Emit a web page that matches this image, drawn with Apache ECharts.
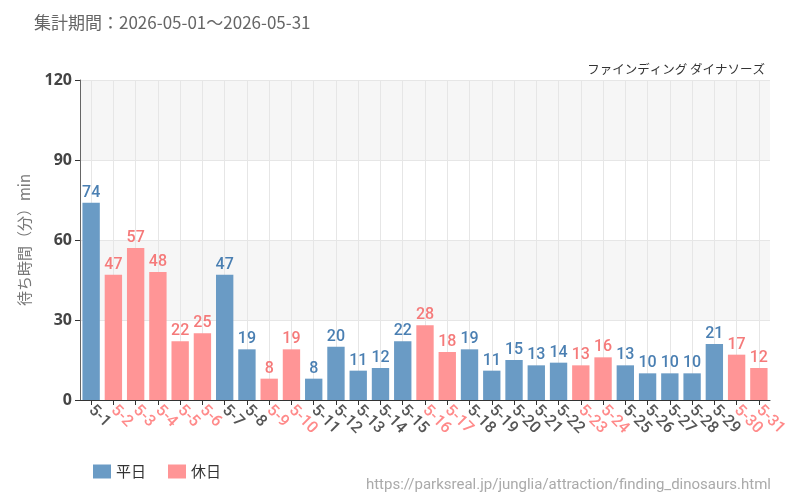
<!DOCTYPE html>
<html>
<head>
<meta charset="utf-8">
<script src="https://cdn.jsdelivr.net/npm/echarts@6/dist/echarts.min.js"></script>
<style>
  html, body { margin: 0; padding: 0; background: #fff; }
</style>
</head>
<body>
<div id="main" style="width: 800px; height: 500px;"></div>
<script>
// 日付
var days = ['5-1', '5-2', '5-3', '5-4', '5-5', '5-6', '5-7', '5-8', '5-9', '5-10',
  '5-11', '5-12', '5-13', '5-14', '5-15', '5-16', '5-17', '5-18', '5-19', '5-20',
  '5-21', '5-22', '5-23', '5-24', '5-25', '5-26', '5-27', '5-28', '5-29', '5-30', '5-31']
// 待ち時間（分）
var waits = [74, 47, 57, 48, 22, 25, 47, 19, 8, 19,
  8, 20, 11, 12, 22, 28, 18, 19, 11, 15,
  13, 14, 13, 16, 13, 10, 10, 10, 21, 17, 12]
// 休日フラグ
var holidays = [0, 1, 1, 1, 1, 1, 0, 0, 1, 1,
  0, 0, 0, 0, 0, 1, 1, 0, 0, 0,
  0, 0, 1, 1, 0, 0, 0, 0, 0, 1, 1]
var yTicks = [0, 30, 60, 90, 120]

var weekdayData = waits.map(function (v, i) { return holidays[i] ? null : v })
var holidayData = waits.map(function (v, i) { return holidays[i] ? v : null })

var cjk = '"Noto Sans CJK JP", "Noto Sans", sans-serif'
var num = 'Roboto, sans-serif'

var myChart = echarts.init(document.getElementById('main'))
myChart.setOption({
  animation: false,
  title: [
    {
      text: '集計期間：2026-05-01～2026-05-31',
      left: 29,
      top: 9,
      textStyle: { color: '#666', fontSize: 17, fontWeight: 'normal', fontFamily: cjk }
    },
    {
      text: 'ファインディング ダイナソーズ',
      right: 30,
      top: 58,
      textStyle: { color: '#333', fontSize: 12.5, fontWeight: 'normal', fontFamily: cjk }
    },
    {
      text: 'https://parksreal.jp/junglia/attraction/finding_dinosaurs.html',
      right: 24,
      top: 473,
      textStyle: { color: '#aaa', fontSize: 15, fontWeight: 'normal', fontFamily: num }
    }
  ],
  legend: {
    left: 88,
    top: 459,
    itemWidth: 18,
    itemHeight: 14,
    itemGap: 22,
    icon: 'rect',
    textStyle: { color: '#333', fontSize: 15, fontFamily: cjk },
    data: ['平日', '休日']
  },
  grid: {
    left: 80,
    right: 30,
    top: 80,
    bottom: 100
  },
  xAxis: {
    type: 'category',
    data: days,
    axisLine: { lineStyle: { color: '#333' } },
    axisTick: { show: true, alignWithLabel: true, lineStyle: { color: '#333' } },
    splitLine: { show: true, alignWithLabel: true, lineStyle: { color: '#e6e6e6' } },
    axisLabel: {
      rotate: -45,
      interval: 0,
      fontSize: 16,
      fontFamily: num,
      fontWeight: 500,
      margin: 8,
      color: function (v, i) {
        return holidays[i] ? '#ff8a8a' : '#555'
      }
    }
  },
  yAxis: {
    type: 'value',
    min: yTicks[0],
    max: yTicks[yTicks.length - 1],
    interval: 30,
    name: '待ち時間（分）min',
    nameLocation: 'middle',
    nameGap: 48,
    nameTextStyle: { color: '#777', fontSize: 15, fontFamily: cjk },
    axisLine: { show: true, lineStyle: { color: '#666' } },
    axisTick: { show: true, lineStyle: { color: '#333' } },
    axisLabel: { color: '#444', fontSize: 16, fontWeight: 'bold', fontFamily: '"Open Sans", sans-serif' },
    splitLine: { lineStyle: { color: '#e6e6e6' } },
    splitArea: { show: true, areaStyle: { color: ['rgba(255,255,255,0)', '#f6f6f6'] } }
  },
  series: [
    {
      name: '平日',
      type: 'bar',
      barCategoryGap: '22%',
      barGap: '-100%',
      itemStyle: { color: '#6a9bc5' },
      label: {
        show: true,
        position: 'top',
        distance: 2,
        color: '#4a7fb2',
        fontSize: 16,
        fontFamily: num,
        fontWeight: 500
      },
      data: weekdayData
    },
    {
      name: '休日',
      type: 'bar',
      barCategoryGap: '22%',
      barGap: '-100%',
      itemStyle: { color: '#ff9596' },
      label: {
        show: true,
        position: 'top',
        distance: 2,
        color: '#f57a7a',
        fontSize: 16,
        fontFamily: num,
        fontWeight: 500
      },
      data: holidayData
    }
  ]
})
</script>
</body>
</html>
